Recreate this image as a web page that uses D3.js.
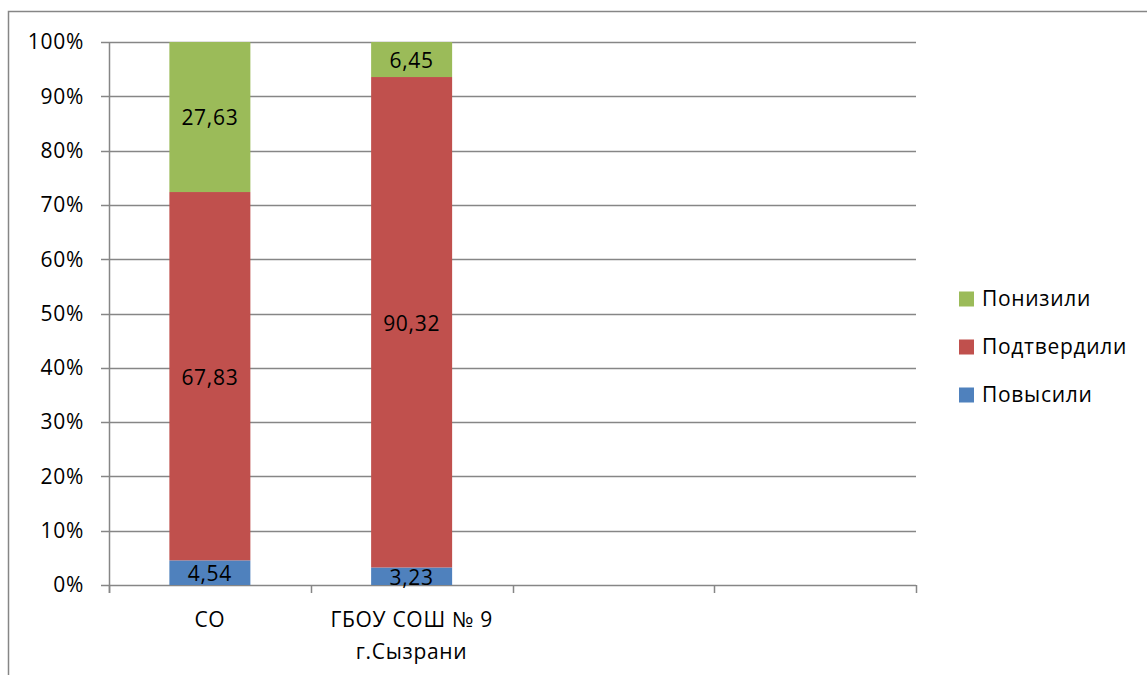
<!DOCTYPE html>
<html>
<head>
<meta charset="utf-8">
<script src="https://cdn.jsdelivr.net/npm/d3@7"></script>
<style>
  body { margin: 0; background: #fff; }
  text { font-family: "Open Sans", "Noto Sans", sans-serif; fill: #000; }
</style>
</head>
<body>
<script>
const categories = ["СО", "ГБОУ СОШ № 9\nг.Сызрани", "", ""];
const seriesNames = ["Повысили", "Подтвердили", "Понизили"];
const povysili = [4.54, 3.23, null, null];
const podtverdili = [67.83, 90.32, null, null];
const ponizili = [27.63, 6.45, null, null];
const yTicks = [0, 0.1, 0.2, 0.3, 0.4, 0.5, 0.6, 0.7, 0.8, 0.9, 1];
const colors = ["#4F81BD", "#C0504D", "#9BBB59"];

const W = 1147, H = 675;
const FS = "21px";
const LS = "0.7px";
const svg = d3.select("body").append("svg")
  .attr("width", W)
  .attr("height", H);

// chart border
svg.append("rect")
  .attr("x", 8.5).attr("y", 11.5)
  .attr("width", W + 20).attr("height", H + 20)
  .attr("fill", "none")
  .attr("stroke", "#868686")
  .attr("stroke-width", 1.5);

const plot = { left: 109, right: 916, top: 42, bottom: 585 };

const y = d3.scaleLinear().domain([0, 1]).range([plot.bottom, plot.top]);

// gridlines
svg.append("g")
  .selectAll("line")
  .data(yTicks)
  .join("line")
  .attr("x1", plot.left - 8)
  .attr("x2", plot.right)
  .attr("y1", (d) => Math.round(y(d)) + 0.5)
  .attr("y2", (d) => Math.round(y(d)) + 0.5)
  .attr("stroke", "#868686")
  .attr("stroke-width", 1.5);

// y axis line
svg.append("line")
  .attr("x1", plot.left + 0.5).attr("x2", plot.left + 0.5)
  .attr("y1", plot.top).attr("y2", plot.bottom + 8)
  .attr("stroke", "#868686")
  .attr("stroke-width", 1.5);

// y tick labels
svg.append("g")
  .selectAll("text")
  .data(yTicks)
  .join("text")
  .attr("x", 84)
  .attr("y", (d) => y(d))
  .attr("dy", "0.35em")
  .attr("text-anchor", "end")
  .style("font-size", FS)
  .style("letter-spacing", LS)
  .text((d) => d3.format(".0%")(d));

// x category ticks
const x = d3.scaleBand()
  .domain(d3.range(categories.length))
  .range([plot.left, plot.right]);
const bounds = d3.range(categories.length + 1).map((i) => plot.left + x.step() * i);
svg.append("g")
  .selectAll("line")
  .data(bounds)
  .join("line")
  .attr("x1", (d) => Math.round(d) + 0.5)
  .attr("x2", (d) => Math.round(d) + 0.5)
  .attr("y1", plot.bottom)
  .attr("y2", plot.bottom + 8)
  .attr("stroke", "#868686")
  .attr("stroke-width", 1.5);

// stack
const rows = categories.map((c, i) => ({
  i,
  "Повысили": povysili[i] ?? 0,
  "Подтвердили": podtverdili[i] ?? 0,
  "Понизили": ponizili[i] ?? 0,
  has: povysili[i] != null,
}));
const stack = d3.stack().keys(seriesNames).offset(d3.stackOffsetExpand);
const series = stack(rows);

const bandW = 81;
const cx = (i) => x(i) + x.bandwidth() / 2;

series.forEach((s, si) => {
  const g = svg.append("g");
  const segs = s.filter((d) => d.data.has);
  g.selectAll("rect")
    .data(segs)
    .join("rect")
    .attr("x", (d) => cx(d.data.i) - bandW / 2)
    .attr("width", bandW)
    .attr("y", (d) => y(d[1]))
    .attr("height", (d) => y(d[0]) - y(d[1]))
    .attr("fill", colors[si]);
  g.selectAll("text")
    .data(segs)
    .join("text")
    .attr("x", (d) => cx(d.data.i))
    .attr("y", (d) => (y(d[0]) + y(d[1])) / 2 + 1)
    .attr("dy", "0.35em")
    .attr("text-anchor", "middle")
    .style("font-size", FS)
    .style("letter-spacing", LS)
    .text((d) => d3.format(".2f")(d.data[seriesNames[si]]).replace(".", ","));
});

// category labels
categories.forEach((c, i) => {
  if (!c) return;
  const t = svg.append("text")
    .attr("x", cx(i))
    .attr("y", 627)
    .attr("text-anchor", "middle")
    .style("font-size", FS)
    .style("letter-spacing", LS);
  c.split("\n").forEach((line, li) => {
    t.append("tspan")
      .attr("x", cx(i))
      .attr("dy", li === 0 ? 0 : 32)
      .text(line);
  });
});

// legend
const legendItems = [2, 1, 0];
const lg = svg.append("g");
legendItems.forEach((si, k) => {
  const ly = 299 + k * 48;
  lg.append("rect")
    .attr("x", 959).attr("y", ly - 7.5)
    .attr("width", 15).attr("height", 15)
    .attr("fill", colors[si]);
  lg.append("text")
    .attr("x", 982).attr("y", ly)
    .attr("dy", "0.35em")
    .style("font-size", FS)
    .style("letter-spacing", LS)
    .text(seriesNames[si]);
});
</script>
</body>
</html>
